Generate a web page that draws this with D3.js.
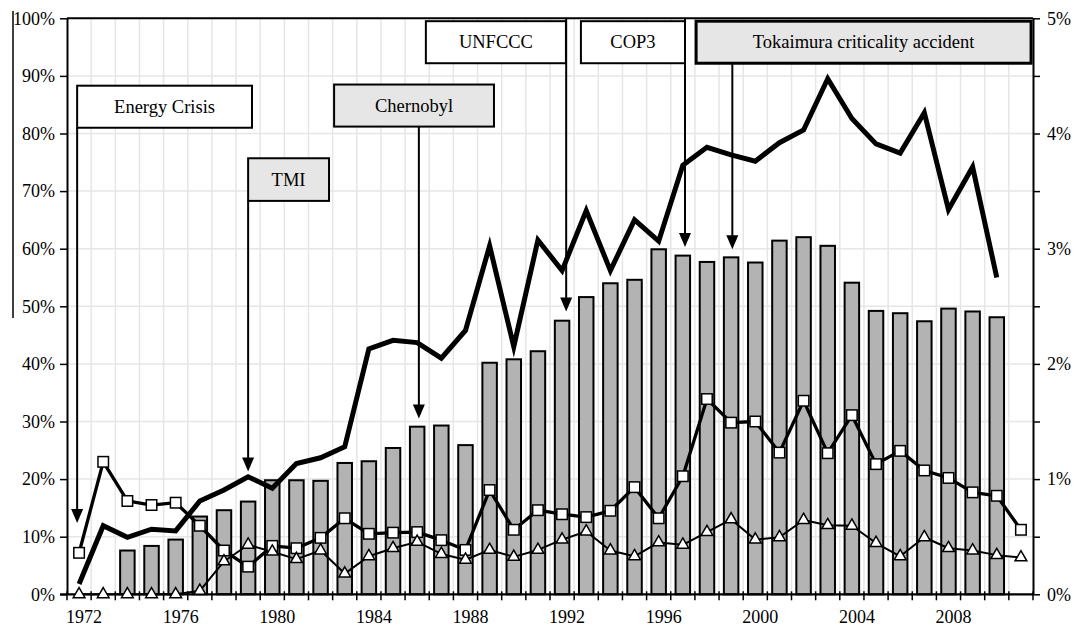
<!DOCTYPE html>
<html>
<head>
<meta charset="utf-8">
<script src="https://cdn.jsdelivr.net/npm/d3@7"></script>
<style>
  html, body { margin: 0; padding: 0; background: #fff; }
  svg { display: block; }
  text { font-family: "Liberation Serif", "Times New Roman", serif; fill: #000; }
</style>
</head>
<body>
<svg id="chart" width="1073" height="628"></svg>
<script>
// Years on the category axis
const years = d3.range(1972, 2012);
const yearLabels = [1972, 1976, 1980, 1984, 1988, 1992, 1996, 2000, 2004, 2008];

// Gray bars (left axis, %)
const barValues = [null, null, 7.6, 8.4, 9.5, 13.5, 14.6, 16.1, 19.8, 19.8, 19.7, 22.8,
  23.1, 25.4, 29.1, 29.3, 25.9, 40.2, 40.8, 42.2, 47.5, 51.6, 54.0, 54.6, 59.9, 58.8, 57.7,
  58.5, 57.6, 61.4, 62.0, 60.5, 54.1, 49.2, 48.8, 47.4, 49.6, 49.1, 48.1, null];

// Heavy black line, no markers (left axis, %)
const heavyLine = [1.8, 11.9, 9.9, 11.3, 11.0, 16.2, 18.1, 20.4, 18.4, 22.7, 23.7, 25.6,
  42.6, 44.1, 43.7, 41.0, 45.8, 60.5, 43.0, 61.5, 56.2, 66.6, 56.2, 65.0, 61.3, 74.5, 77.6,
  76.3, 75.2, 78.4, 80.6, 89.5, 82.6, 78.2, 76.6, 83.6, 66.8, 74.2, 55.0, null];

// Line with square markers (left axis, %)
const squareLine = [7.2, 23.0, 16.2, 15.5, 15.9, 11.9, 7.6, 4.8, 8.4, 8.0, 9.8, 13.2,
  10.5, 10.7, 10.8, 9.4, 7.7, 18.1, 11.2, 14.6, 13.9, 13.4, 14.5, 18.6, 13.2, 20.5, 33.9,
  29.8, 30.0, 24.6, 33.6, 24.5, 31.1, 22.6, 24.9, 21.5, 20.2, 17.7, 17.1, 11.2];

// Line with triangle markers (left axis, %)
const triangleLine = [0, 0, 0, 0, 0, 0.6, 5.7, 8.6, 7.4, 6.1, 7.6, 3.6,
  6.6, 8.0, 9.1, 7.0, 6.0, 7.7, 6.5, 7.7, 9.5, 10.9, 7.6, 6.6, 9.0, 8.6, 10.8,
  13.0, 9.5, 9.9, 12.9, 12.0, 11.9, 8.9, 6.6, 9.9, 8.0, 7.6, 6.8, 6.4];

// Left axis ticks (%), right axis ticks (%)
const leftTicks = d3.range(0, 101, 10);
const rightTicks = [0, 0.5, 1, 1.5, 2, 2.5, 3, 3.5, 4, 4.5, 5];
const rightLabels = [0, 1, 2, 3, 4, 5];

// Events marked on the chart
const eventNames = ["Energy Crisis", "TMI", "Chernobyl", "UNFCCC", "COP3", "Tokaimura criticality accident"];
const eventYears = [1972, 1979, 1986, 1992, 1997, 1999];

// ---- layout ----
const L = 67, R = 1033, T = 18.3, B = 594.3;
const svg = d3.select("#chart");

const x = d3.scaleBand().domain(years).range([L, R]).padding(0);
const bw = x.bandwidth();
const xc = v => x(1972) + bw / 2 + (v - 1972) * x.step();   // continuous year position
const y = d3.scaleLinear().domain([0, 100]).range([B, T]);
const y2 = d3.scaleLinear().domain([0, 5]).range([B, T]);

// grid
const grid = svg.append("g").attr("stroke", "#e6e6e6").attr("stroke-width", 1.5);
grid.selectAll("line.h").data(leftTicks.slice(1)).join("line")
  .attr("x1", L).attr("x2", R).attr("y1", d => y(d)).attr("y2", d => y(d));
grid.selectAll("line.v").data(years.slice(1)).join("line")
  .attr("x1", d => x(d)).attr("x2", d => x(d)).attr("y1", T).attr("y2", B);

// stray frame line at far left
svg.append("line").attr("x1", 13).attr("x2", 13).attr("y1", 11).attr("y2", 318)
  .attr("stroke", "#000").attr("stroke-width", 1.5);

// bars
const barW = bw * 0.6;
svg.append("g").selectAll("rect")
  .data(years.map((yr, i) => ({ yr, v: barValues[i] })).filter(d => d.v != null))
  .join("rect")
  .attr("x", d => x(d.yr) + (bw - barW) / 2)
  .attr("width", barW)
  .attr("y", d => y(d.v))
  .attr("height", d => y(0) - y(d.v))
  .attr("fill", "#b3b3b3").attr("stroke", "#000").attr("stroke-width", 2);

// axes
const fontSize = 18;
const fontFamily = '"Liberation Serif", "Times New Roman", serif';
const leftAxis = d3.axisLeft(y).tickValues(leftTicks).tickFormat(d => d + "%")
  .tickSize(7).tickSizeOuter(0).tickPadding(5);
const gL = svg.append("g").attr("transform", `translate(${L},0)`).call(leftAxis);
const rightAxis = d3.axisRight(y2).tickValues(rightTicks)
  .tickFormat(d => rightLabels.includes(d) ? d + "%" : "")
  .tickSize(7).tickSizeOuter(0).tickPadding(7);
const gR = svg.append("g").attr("transform", `translate(${R},0)`).call(rightAxis);
[gL, gR].forEach(g => {
  g.select(".domain").attr("stroke", "#000").attr("stroke-width", 2);
  g.selectAll(".tick line").attr("stroke", "#000").attr("stroke-width", 1.5);
  g.selectAll(".tick text").style("font-size", fontSize + "px")
    .style("font-family", fontFamily).attr("fill", "#000");
});

// bottom axis: labels every 4 years, ticks on every category boundary
const bottomAxis = d3.axisBottom(x).tickValues(yearLabels).tickSize(0).tickPadding(16);
const gB = svg.append("g").attr("transform", `translate(0,${B})`).call(bottomAxis);
gB.select(".domain").remove();
gB.selectAll(".tick text").style("font-size", fontSize + "px")
  .style("font-family", fontFamily).attr("fill", "#000")
  .attr("dx", 5);
svg.append("g").attr("stroke", "#000").attr("stroke-width", 1.5)
  .selectAll("line").data(years.concat([2012])).join("line")
  .attr("x1", d => d === 2012 ? R : x(d)).attr("x2", d => d === 2012 ? R : x(d))
  .attr("y1", B - 3).attr("y2", B + 6);
svg.append("line").attr("x1", L - 7).attr("x2", R).attr("y1", B).attr("y2", B)
  .attr("stroke", "#000").attr("stroke-width", 2.2);
svg.append("line").attr("x1", L).attr("x2", R).attr("y1", T).attr("y2", T)
  .attr("stroke", "#000").attr("stroke-width", 2);

// lines
const cx = i => x(years[i]) + bw / 2;
const lineGen = d3.line().defined(d => d != null).x((d, i) => cx(i)).y(d => y(d));

svg.append("path").datum(heavyLine).attr("d", lineGen)
  .attr("fill", "none").attr("stroke", "#000").attr("stroke-width", 5)
  .attr("stroke-linejoin", "miter").attr("stroke-miterlimit", 10);

svg.append("path").datum(squareLine).attr("d", lineGen)
  .attr("fill", "none").attr("stroke", "#000").attr("stroke-width", 3.3)
  .attr("stroke-linejoin", "round");

svg.append("path").datum(triangleLine).attr("d", lineGen)
  .attr("fill", "none").attr("stroke", "#000").attr("stroke-width", 2)
  .attr("stroke-linejoin", "round");

// markers
const sq = 10.5;
svg.append("g").selectAll("rect").data(squareLine).join("rect")
  .attr("x", (d, i) => cx(i) - sq / 2).attr("y", d => y(d) - sq / 2)
  .attr("width", sq).attr("height", sq)
  .attr("fill", "#fff").attr("stroke", "#000").attr("stroke-width", 1.5);

const tri = d3.symbol().type(d3.symbolTriangle).size(60);
svg.append("g").selectAll("path").data(triangleLine).join("path")
  .attr("d", tri)
  .attr("transform", (d, i) => `translate(${cx(i)},${y(d)})`)
  .attr("fill", "#fff").attr("stroke", "#000").attr("stroke-width", 1.5);

// event annotations: box extent in years / %, arrow position and tip
const eventLayout = {
  "Energy Crisis": { x0: 1971.92, x1: 1979.16, top: 88.3, bot: 81.0, ax: 1971.92, from: "box", tip: 12.4, fill: "#fff", sw: 2 },
  "TMI": { x0: 1979.0, x1: 1982.35, top: 75.7, bot: 68.3, ax: 1979.0, from: "box", tip: 21.3, fill: "#e6e6e6", sw: 2 },
  "Chernobyl": { x0: 1982.56, x1: 1989.18, top: 88.5, bot: 81.2, ax: 1986.07, from: "box", tip: 30.5, fill: "#e6e6e6", sw: 2 },
  "UNFCCC": { x0: 1986.36, x1: 1992.16, top: 99.5, bot: 92.2, ax: 1992.17, from: "top", tip: 49.1, fill: "#fff", sw: 2 },
  "COP3": { x0: 1992.78, x1: 1997.09, top: 99.5, bot: 92.2, ax: 1997.09, from: "top", tip: 60.3, fill: "#fff", sw: 2 },
  "Tokaimura criticality accident": { x0: 1997.55, x1: 2011.42, top: 99.5, bot: 92.2, ax: 1999.05, from: "box", tip: 59.9, fill: "#e6e6e6", sw: 3 }
};

const ann = svg.append("g");
eventNames.forEach((name, k) => {
  const o = eventLayout[name];
  const ax = xc(o.ax);
  const yStart = o.from === "top" ? T : y(o.bot);
  const yTip = y(o.tip);
  const head = 14, hw = 6;
  ann.append("line").attr("x1", ax).attr("x2", ax).attr("y1", yStart).attr("y2", yTip - head + 2)
    .attr("stroke", "#000").attr("stroke-width", 2);
  ann.append("path")
    .attr("d", `M${ax - hw},${yTip - head}L${ax + hw},${yTip - head}L${ax},${yTip}Z`)
    .attr("fill", "#000");
  ann.append("rect")
    .attr("x", xc(o.x0)).attr("y", y(o.top))
    .attr("width", xc(o.x1) - xc(o.x0)).attr("height", y(o.bot) - y(o.top))
    .attr("fill", o.fill).attr("stroke", "#000").attr("stroke-width", o.sw);
  ann.append("text")
    .attr("x", (xc(o.x0) + xc(o.x1)) / 2).attr("y", (y(o.top) + y(o.bot)) / 2)
    .attr("text-anchor", "middle").attr("dy", "0.33em")
    .style("font-size", "18.5px")
    .text(name);
});
</script>
</body>
</html>
